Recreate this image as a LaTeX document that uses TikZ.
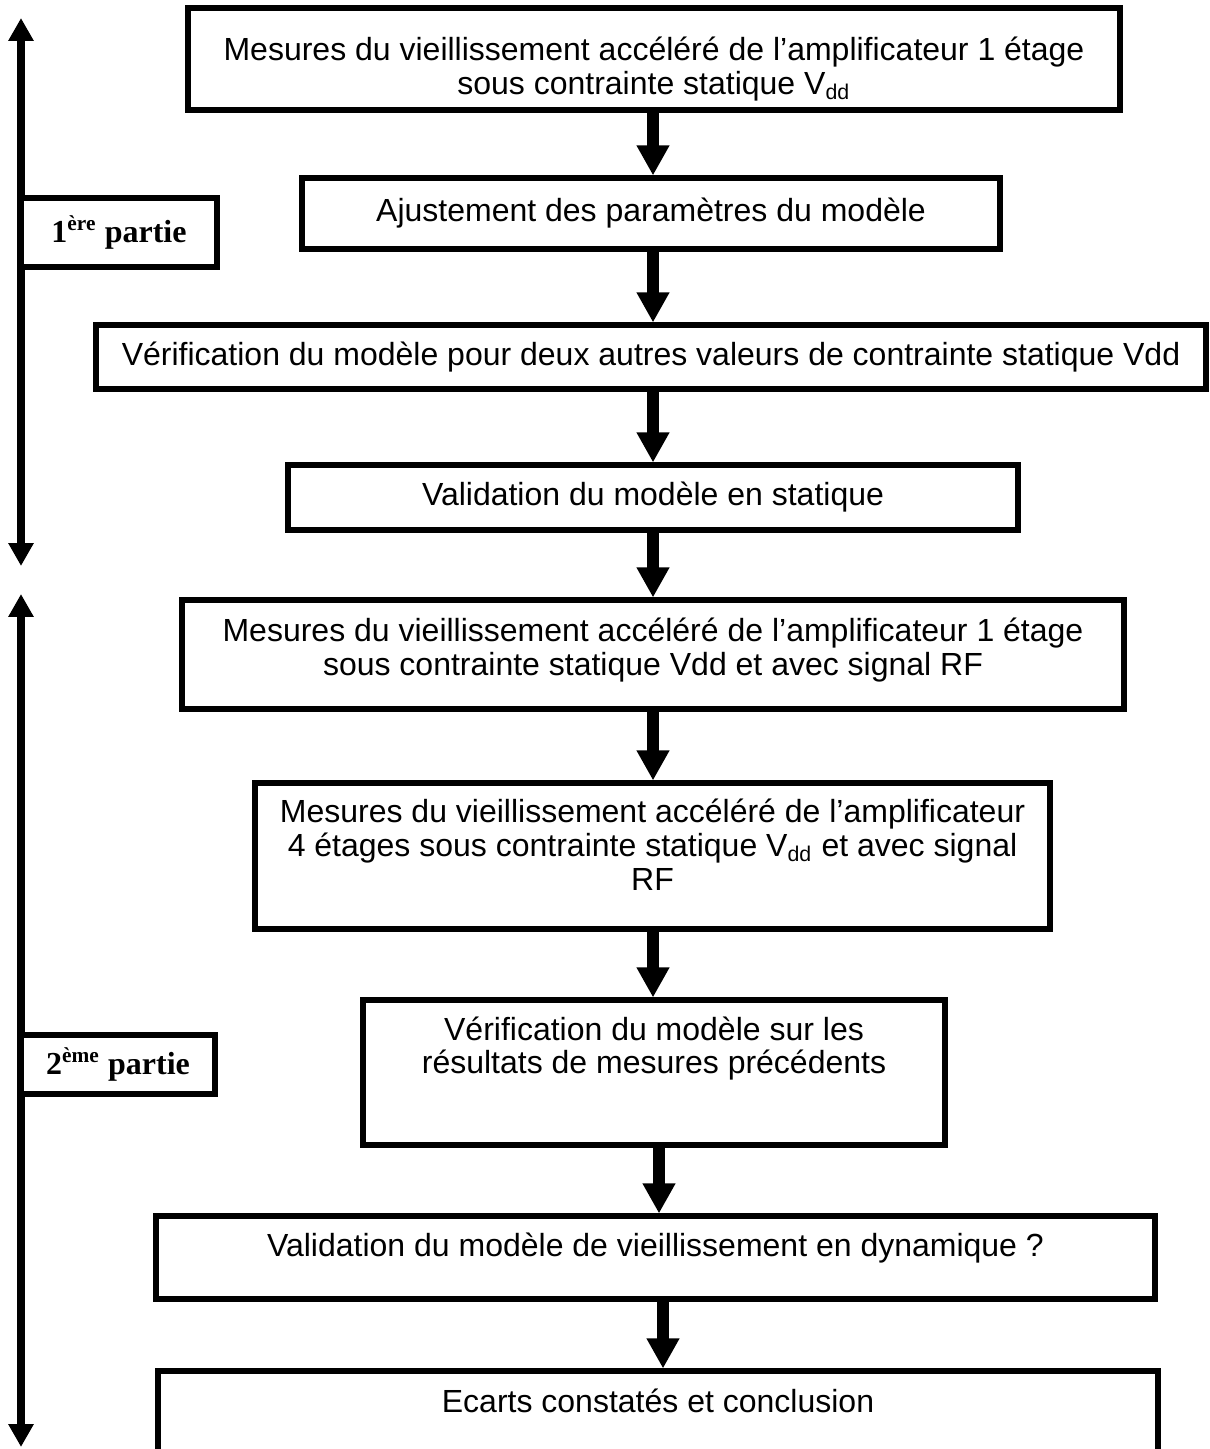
\documentclass[tikz,border=0pt]{standalone}
\usepackage{fontspec}
\setmainfont{Liberation Sans}
\newfontfamily\partfont{Liberation Serif}
\usetikzlibrary{arrows.meta}

\begin{document}
\begin{tikzpicture}[
  x=0.375pt, y=-0.375pt,
  font=\fontsize{12}{12.7}\selectfont,
  sz/.style 2 args={minimum width=#1*0.375pt, minimum height=#2*0.375pt},
  box/.style={draw, line width=1.9pt, inner sep=0pt, align=center},
  txt/.style={align=center, inner sep=0pt},
  part/.style={draw, line width=2.6pt, fill=white, inner sep=0pt,
    font=\partfont\bfseries\fontsize{12}{14}\selectfont},
  flow/.style={-{Triangle[length=11.3pt, width=11.6pt]}, line width=4.5pt},
  span/.style={{Triangle[length=8.6pt, width=9pt]}-{Triangle[length=8.6pt, width=9pt]},
    line width=3pt},
]
\useasboundingbox (0,0) rectangle (1209,1449);

% left brackets for the two parts
\coordinate (s1a) at (21,18);
\coordinate (s1b) at (21,566);
\coordinate (s2a) at (21,594);
\coordinate (s2b) at (21,1447);
\draw[span] (s1a) -- (s1b);
\draw[span] (s2a) -- (s2b);
\node[part, sz={196}{69}] (p1) at (119,232.5) {1\textsuperscript{ère} partie};
\node[part, sz={194}{59}] (p2) at (118,1064.5) {2\textsuperscript{ème} partie};

% steps
\node[box, sz={932}{102}] (m1) at (654,59) {};
\node[txt] (m1t) at (654,69) {Mesures du vieillissement accéléré de l’amplificateur 1 étage\\
  sous contrainte statique V\textsubscript{dd}};
\node[box, sz={698}{71}] (m2) at (651,213.5) {Ajustement des paramètres du modèle};
\node[box, sz={1110}{64}] (m3) at (651,357)
  {Vérification du modèle pour deux autres valeurs de contrainte statique Vdd};
\node[box, sz={730}{65}] (m4) at (653,497.5) {Validation du modèle en statique};
\node[box, sz={942}{109}] (m5) at (653,654.5) {};
\node[txt] (m5t) at (653,650) {Mesures du vieillissement accéléré de l’amplificateur 1 étage\\
  sous contrainte statique Vdd et avec signal RF};
\node[box, sz={795}{146}] (m6) at (652.5,856) {};
\node[txt] (m6t) at (652.5,845) {Mesures du vieillissement accéléré de l’amplificateur\\
  4 étages sous contrainte statique V\textsubscript{dd} et avec signal\\RF};
\node[box, sz={582}{145}] (m7) at (654,1072.5) {};
\node[txt] (m7t) at (654,1048.5) {Vérification du modèle sur les\\résultats de mesures précédents};
\node[box, sz={999}{83}] (m8) at (655.5,1257.5) {};
\node[txt] (m8t) at (655.5,1248.5) {Validation du modèle de vieillissement en dynamique ?};
\node[box, sz={1000}{150}] (m9) at (658,1446) {};
\node[txt] (m9t) at (658,1401) {Ecarts constatés et conclusion};

% flow arrows
\coordinate (ax) at (653,0);
\coordinate (bx) at (659,0);
\coordinate (cx) at (663,0);
\foreach \a/\b in {m1/m2, m2/m3, m3/m4, m4/m5, m5/m6, m6/m7}
  \draw[flow] (\a.south -| ax) -- (\b.north -| ax);
\draw[flow] (m7.south -| bx) -- (m8.north -| bx);
\draw[flow] (m8.south -| cx) -- (m9.north -| cx);
\end{tikzpicture}
\end{document}
